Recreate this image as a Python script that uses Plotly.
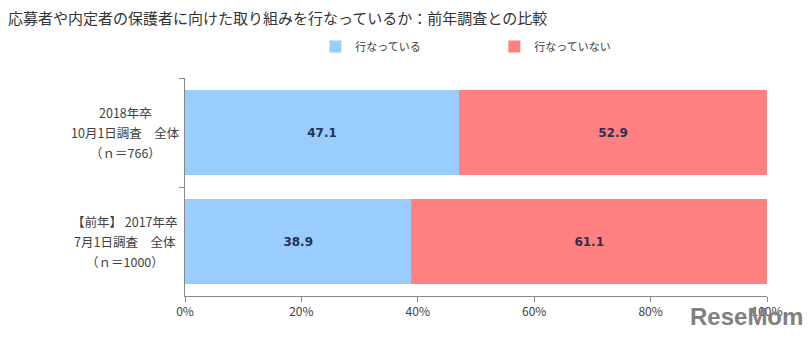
import plotly.graph_objects as go

category_lines = [["2018年卒", "10月1日調査　全体", "（ｎ＝766）"],
                  ["【前年】 2017年卒", "7月1日調査　全体", "（ｎ＝1000）"]]
cat_keys = ["y2018", "y2017"]
doing = [47.1, 38.9]
not_doing = [52.9, 61.1]
series_names = ["行なっている", "行なっていない"]
x_ticks = [0, 20, 40, 60, 80, 100]
x_tick_labels = ["0%", "20%", "40%", "60%", "80%", "100%"]
title = "応募者や内定者の保護者に向けた取り組みを行なっているか：前年調査との比較"

JP = "Noto Sans CJK JP"
fig = go.Figure()
for name, vals, color in [(series_names[0], doing, "#99CCFF"),
                          (series_names[1], not_doing, "#FF8080")]:
    fig.add_trace(go.Bar(
        y=cat_keys, x=vals, name=name, orientation="h",
        marker=dict(color=color, line=dict(width=0)),
        text=[f"{v:.1f}" for v in vals], textposition="inside",
        insidetextanchor="middle",
        textfont=dict(family="DejaVu Sans", size=12, color="#26334F", weight="bold"),
    ))

for key, lines in zip(cat_keys, category_lines):
    for i, line in enumerate(lines):
        fig.add_annotation(x=-0.103, xref="paper", y=key, yref="y", text=line,
                           showarrow=False, align="center", xanchor="center",
                           yanchor="middle", yshift=(1 - i) * 20,
                           font=dict(family=JP, size=12.5, color="#404040"))

fig.add_annotation(xref="paper", yref="paper", x=(805 - 185) / 582, y=(296 - 316) / 218,
                   text="<b>ReseMom</b>", showarrow=False, xanchor="right", yanchor="middle",
                   font=dict(family="Liberation Sans Narrow, Liberation Sans", size=24, color="#808080"))

fig.update_layout(
    width=812, height=339,
    barmode="stack", bargap=0.22,
    margin=dict(l=185, r=45, t=78, b=43),
    paper_bgcolor="white", plot_bgcolor="white",
    title=dict(text=title, x=0.01, xanchor="left", y=0.945, yanchor="middle",
               font=dict(family=JP, size=15, color="#333333")),
    legend=dict(orientation="h", x=0.224, xanchor="left", y=0.82, yanchor="bottom",
                yref="container", entrywidth=134, traceorder="normal",
                font=dict(family=JP, size=11, color="#404040")),
    xaxis=dict(range=[0, 100], tickvals=x_ticks, ticktext=x_tick_labels,
               showgrid=False, zeroline=False, showline=True, linecolor="#888888",
               ticks="outside", ticklen=5, tickcolor="#888888",
               tickfont=dict(family=JP, size=12, color="#404040")),
    yaxis=dict(type="category", categoryorder="array", categoryarray=cat_keys,
               autorange="reversed",
               showticklabels=False, showgrid=False, zeroline=False,
               showline=True, linecolor="#888888", ticks="outside", ticklen=5,
               tickcolor="#888888", tickson="boundaries"),
)
fig.write_html("out.html")
